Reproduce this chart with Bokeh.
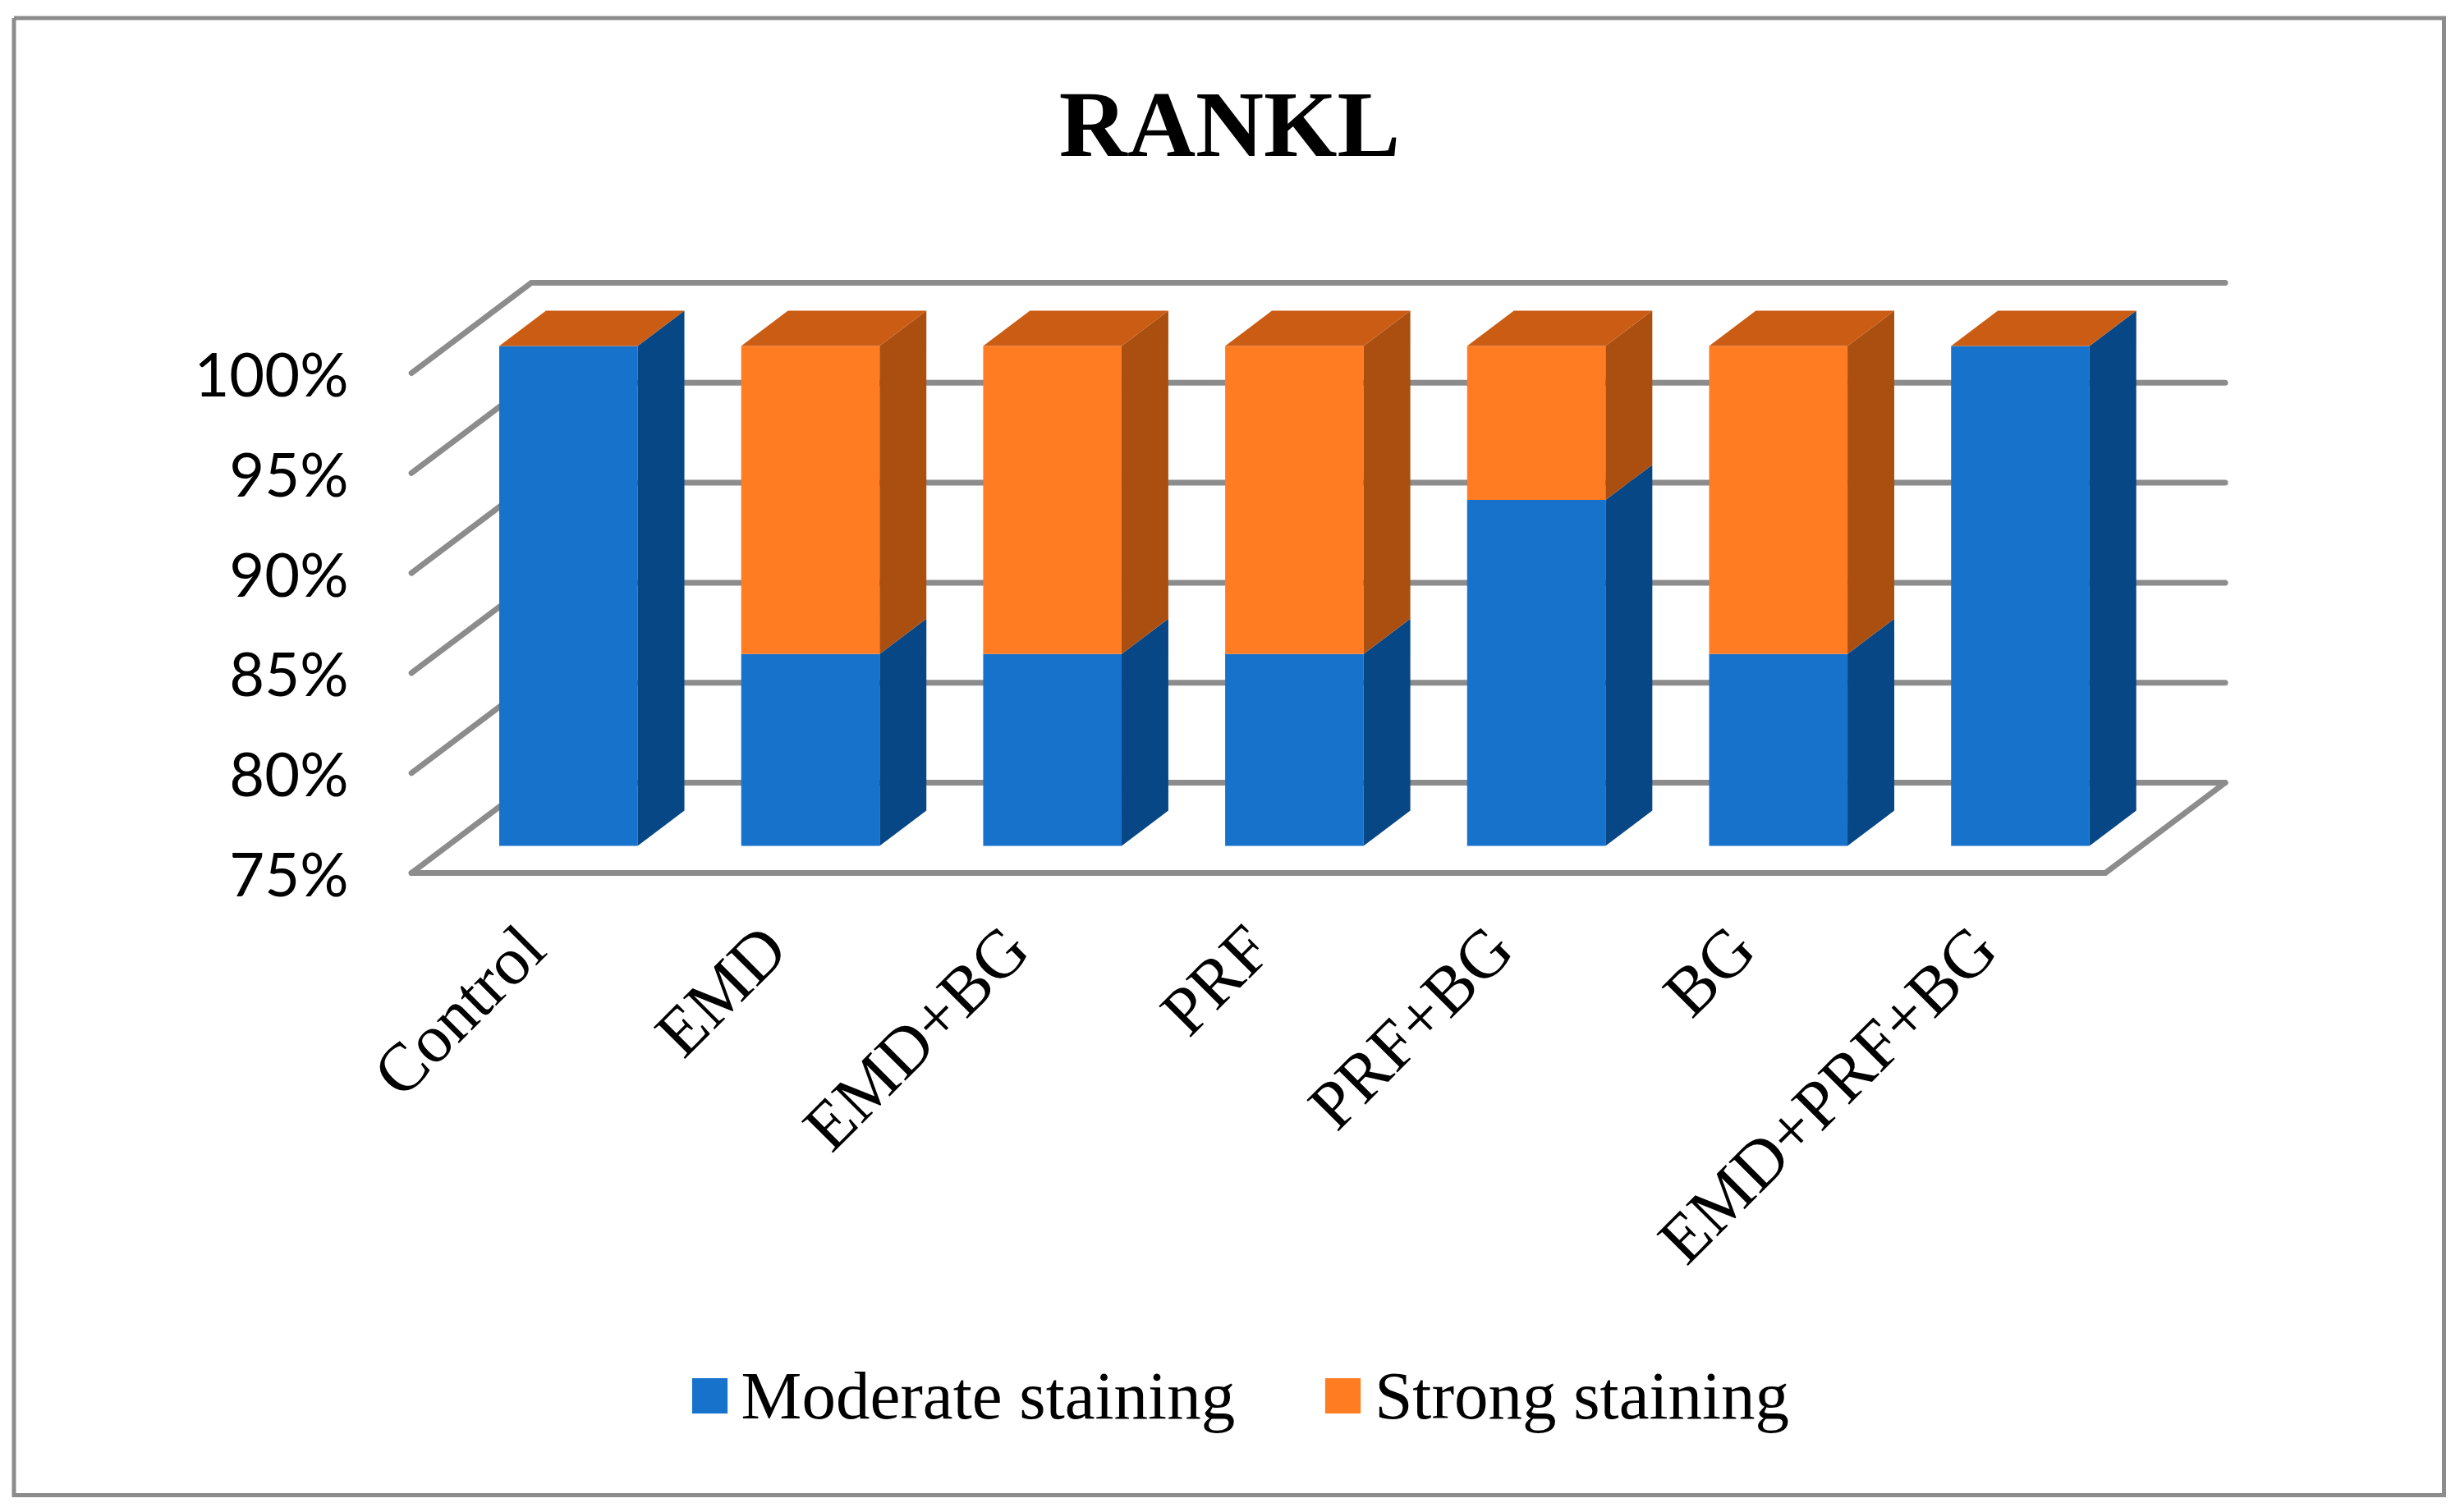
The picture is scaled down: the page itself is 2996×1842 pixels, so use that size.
from math import pi
from bokeh.plotting import figure
from bokeh.embed import file_html
from bokeh.resources import INLINE
from bokeh.models import FixedTicker, Legend, LegendItem, Label

# ---- data ----
categories = ["Control", "EMD", "EMD+BG", "PRF", "PRF+BG", "BG", "EMD+PRF+BG"]
moderate = [100, 84.6, 84.6, 84.6, 92.3, 84.6, 100]
strong = [0, 15.4, 15.4, 15.4, 7.7, 15.4, 0]
y_ticks = [75, 80, 85, 90, 95, 100]
y_labels = ["75%", "80%", "85%", "90%", "95%", "100%"]
series_names = ["Moderate staining", "Strong staining"]
title_text = "RANKL"

# ---- layout (target page pixels) ----
FIG_W, FIG_H = 2980, 1826
AX_L, AX_B = 432, 1085            # where the two axes sit
X0_PX, X_SCALE = 648.0, 294.7     # index 0 on the floor's front edge, px per category
Y75_PX, Y_SCALE = 1063.0, 24.36   # 75% on the front plane, px per percent
DEPTH_X = 146 / X_SCALE           # full floor depth in x units
DEPTH_Y = 110 / Y_SCALE           # full floor depth in y units
BAR_HALF = 0.286
BAR_D0, BAR_D1 = 0.30, 0.69
X_LO, X_HI = -0.5, 6.5

BLUE, BLUE_SIDE = "#1772cb", "#074785"
ORANGE, ORANGE_SIDE, ORANGE_TOP = "#ff7c22", "#ab4f11", "#cb5c13"
GREY = "#8c8c8c"


def px_x(px):
    return (px - X0_PX) / X_SCALE


def px_y(px):
    return 75 + (Y75_PX - px) / Y_SCALE


def proj(x, y, d):
    return x + DEPTH_X * d, y + DEPTH_Y * d


def poly(points):
    xs, ys = zip(*[proj(*pt) for pt in points])
    return list(xs), list(ys)


p = figure(
    width=FIG_W, height=FIG_H, output_backend="svg", toolbar_location=None,
    x_range=(px_x(0), px_x(FIG_W)), y_range=(px_y(FIG_H), px_y(0)),
    min_border=0, background_fill_color="white", border_fill_color="white",
)
p.grid.visible = False
p.outline_line_color = None

# outer frame
bx = [px_x(v) for v in (16.5, 2976, 2976, 16.5, 16.5)]
by = [px_y(v) for v in (21.5, 21.5, 1821, 1821, 21.5)]
p.line(bx, by, line_color=GREY, line_width=5, line_join="miter")

# title
p.add_layout(Label(x=px_x(1497), y=px_y(151), text=title_text, text_align="center",
                   text_baseline="alphabetic", text_font="Liberation Serif",
                   text_font_style="bold", text_font_size="115px", text_color="black"))

# walls and floor
for t in y_ticks:
    xs, ys = poly([(X_LO, t, 0), (X_LO, t, 1), (X_HI, t, 1)])
    p.line(xs, ys, line_color=GREY, line_width=7, line_join="miter", line_cap="round")
xs, ys = poly([(X_LO, 75, 0), (X_HI, 75, 0), (X_HI, 75, 1)])
p.line(xs, ys, line_color=GREY, line_width=7, line_join="miter", line_cap="round")

# bars
front_m, side_m, front_s, side_s, tops = [], [], [], [], []
for i, (m, s) in enumerate(zip(moderate, strong)):
    a, b = i - BAR_HALF, i + BAR_HALF
    y1, y2 = y_ticks[0], m
    top = m + s
    front_m.append(poly([(a, y1, BAR_D0), (b, y1, BAR_D0), (b, y2, BAR_D0), (a, y2, BAR_D0)]))
    side_m.append(poly([(b, y1, BAR_D0), (b, y1, BAR_D1), (b, y2, BAR_D1), (b, y2, BAR_D0)]))
    front_s.append(poly([(a, y2, BAR_D0), (b, y2, BAR_D0), (b, top, BAR_D0), (a, top, BAR_D0)]))
    side_s.append(poly([(b, y2, BAR_D0), (b, y2, BAR_D1), (b, top, BAR_D1), (b, top, BAR_D0)]))
    tops.append(poly([(a, top, BAR_D0), (b, top, BAR_D0), (b, top, BAR_D1), (a, top, BAR_D1)]))


def draw(group, colour):
    return p.patches([g[0] for g in group], [g[1] for g in group],
                     fill_color=colour, line_color=None)


r_blue = draw(front_m, BLUE)
draw(side_m, BLUE_SIDE)
r_orange = draw(front_s, ORANGE)
draw(side_s, ORANGE_SIDE)
draw(tops, ORANGE_TOP)

# axes
yax = p.yaxis[0]
yax.fixed_location = px_x(AX_L)
yax.ticker = FixedTicker(ticks=y_ticks)
yax.major_label_overrides = {t: s for t, s in zip(y_ticks, y_labels)}
yax.major_label_text_font = "Lato"
yax.major_label_text_font_size = "74px"
yax.major_label_text_color = "black"
yax.major_tick_line_color = None
yax.minor_tick_line_color = None
yax.axis_line_color = None
yax.major_label_standoff = 2

xax = p.xaxis[0]
xax.fixed_location = px_y(AX_B)
xax.ticker = FixedTicker(ticks=list(range(len(categories))))
xax.major_label_overrides = {i: c for i, c in enumerate(categories)}
xax.major_label_orientation = pi / 4
xax.major_label_text_font = "Liberation Serif"
xax.major_label_text_font_size = "83px"
xax.major_label_text_color = "black"
xax.major_tick_line_color = None
xax.minor_tick_line_color = None
xax.axis_line_color = None
xax.major_label_standoff = 50

# legend
legend = Legend(
    items=[LegendItem(label=series_names[0], renderers=[r_blue]),
           LegendItem(label=series_names[1], renderers=[r_orange])],
    orientation="horizontal", location=(836.6, FIG_H - 1748),
    glyph_width=54, glyph_height=54, label_standoff=12, spacing=104,
    padding=0, margin=0, border_line_color=None, background_fill_alpha=0,
    label_text_font="Liberation Serif", label_text_font_size="83px",
    label_text_color="black",
)
p.add_layout(legend, "center")

open("out.html", "w").write(file_html(p, INLINE))
